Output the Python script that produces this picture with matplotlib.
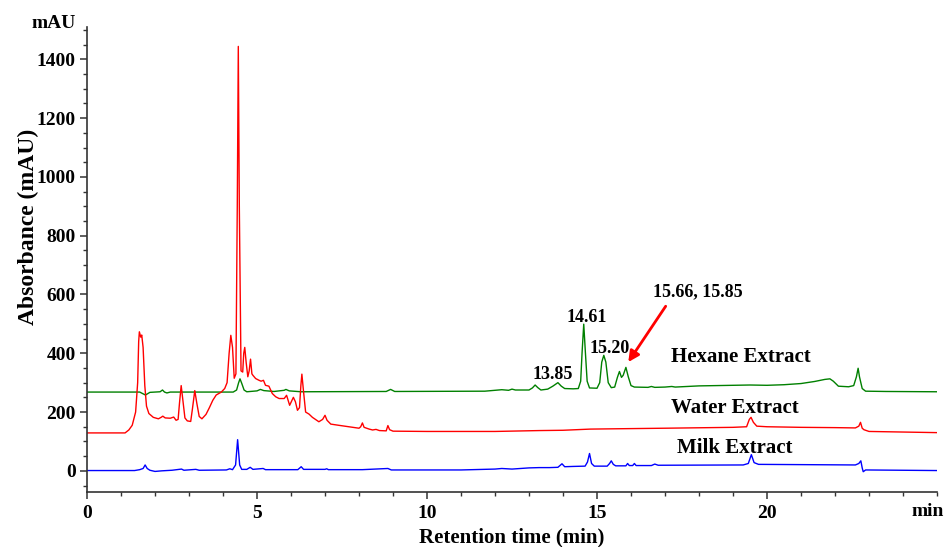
import matplotlib
matplotlib.use("Agg")
import matplotlib.pyplot as plt
from matplotlib.ticker import MultipleLocator

plt.rcParams['font.family'] = ['Liberation Serif', 'DejaVu Serif']
plt.rcParams['font.weight'] = 'bold'

# ---- data (time in min, absorbance in mAU) ----
hexane_t = [0, 1.55, 1.65, 1.72, 1.85, 2.15, 2.22, 2.28, 2.35, 2.45, 4.3, 4.4, 4.46, 4.5, 4.55,
            4.62, 4.7, 5.0, 5.1, 5.2, 5.5, 5.8, 5.85, 5.95, 6.3, 8.8, 8.93, 9.05, 11.7, 12.2,
            12.4, 12.5, 12.6, 13.0, 13.1, 13.18, 13.26, 13.35, 13.55, 13.7, 13.85, 13.95, 14.05,
            14.3, 14.45, 14.52, 14.56, 14.61, 14.66, 14.71, 14.78, 15.0, 15.08, 15.14, 15.20,
            15.26, 15.33, 15.42, 15.52, 15.60, 15.66, 15.72, 15.77, 15.85, 15.92, 16.0, 16.1,
            16.5, 16.6, 16.7, 17.0, 17.2, 17.3, 18.0, 19.0, 19.5, 20.0, 20.5, 21.0, 21.4, 21.7,
            21.85, 21.95, 22.1, 22.4, 22.55, 22.63, 22.68, 22.72, 22.8, 22.9, 23.5, 25]
hexane_v = [268, 268, 262, 258, 267, 269, 275, 268, 265, 268, 268, 275, 300, 313, 298,
            275, 269, 272, 277, 273, 270, 274, 277, 272, 269, 270, 277, 270, 271, 276,
            274, 278, 275, 275, 282, 292, 283, 275, 278, 288, 300, 288, 280,
            279, 280, 305, 400, 499, 400, 305, 282, 281, 300, 370, 393,
            370, 300, 283, 285, 318, 338, 318, 325, 352, 320, 290, 285,
            284, 287, 284, 285, 287, 285, 289, 291, 292, 291, 293, 297, 304, 311,
            313, 305, 288, 286, 290, 320, 349, 320, 280, 271, 270, 269]

water_t = [0, 1.12, 1.23, 1.33, 1.43, 1.49, 1.52, 1.54, 1.58, 1.61, 1.65, 1.7, 1.75, 1.82, 1.95,
           2.1, 2.18, 2.23, 2.3, 2.45, 2.55, 2.62, 2.68, 2.72, 2.77, 2.82, 2.88, 2.95, 3.05,
           3.1, 3.17, 3.23, 3.3, 3.38, 3.5, 3.6, 3.7, 3.8, 3.95, 4.05, 4.12, 4.18, 4.23, 4.28,
           4.33, 4.38, 4.42, 4.45, 4.48, 4.53, 4.58, 4.61, 4.64, 4.68, 4.73, 4.77, 4.81, 4.85,
           4.88, 4.96, 5.06, 5.12, 5.19, 5.25, 5.35, 5.45, 5.55, 5.65, 5.8, 5.87, 5.96, 6.07,
           6.13, 6.19, 6.25, 6.29, 6.32, 6.36, 6.43, 6.53, 6.63, 6.82, 6.93, 7.0, 7.06, 7.17,
           7.4, 7.7, 8.0, 8.05, 8.1, 8.15, 8.3, 8.4, 8.5, 8.6, 8.8, 8.85, 8.9, 9.0, 10, 12,
           13.3, 14.0, 14.8, 15.5, 17, 19.0, 19.4, 19.48, 19.53, 19.6, 19.7, 20, 21, 22, 22.6,
           22.7, 22.75, 22.8, 22.85, 23, 25]
water_v = [129, 129, 139, 155, 200, 300, 440, 473, 455, 462, 420, 290, 220, 195, 182,
           177, 182, 186, 180, 179, 183, 172, 175, 230, 290, 240, 180, 170, 168,
           210, 273, 230, 185, 177, 192, 215, 240, 258, 268, 280, 300, 400, 461, 420,
           315, 330, 900, 1444, 900, 340, 336, 400, 420, 370, 320, 340, 380, 330,
           325, 314, 308, 305, 308, 291, 288, 263, 252, 246, 246, 257, 223, 250,
           235, 206, 215, 290, 329, 280, 200, 193, 182, 167, 175, 189, 172, 159,
           155, 150, 145, 150, 163, 148, 142, 139, 141, 137, 136, 154, 140, 135, 134, 134,
           137, 138, 142, 143, 145, 148, 150, 175, 182, 165, 152, 150, 148, 147, 146,
           152, 165, 145, 140, 134, 130]

milk_t = [0, 1.4, 1.55, 1.65, 1.71, 1.77, 1.85, 2.0, 2.2, 2.5, 2.78, 2.85, 3.2, 3.3, 4.1, 4.2,
          4.28, 4.37, 4.43, 4.49, 4.55, 4.7, 4.8, 4.88, 5.18, 5.25, 6.2, 6.3, 6.37, 7.0, 7.05,
          7.1, 8.1, 8.85, 8.95, 11.0, 12.0, 12.2, 12.5, 13.0, 13.3, 13.6, 13.85, 13.97, 14.05,
          14.3, 14.65, 14.72, 14.78, 14.84, 14.92, 15.3, 15.37, 15.42, 15.48, 15.55, 15.85,
          15.9, 15.95, 16.05, 16.1, 16.15, 16.6, 16.7, 16.8, 19.3, 19.45, 19.54, 19.62, 19.75,
          22.6, 22.7, 22.76, 22.8, 22.83, 22.9, 25]
milk_v = [1, 1, 4, 8, 20, 8, 2, -2, 0, 2, 6, 2, 5, 2, 3, 7,
          4, 20, 106, 20, 5, 5, 12, 5, 8, 4, 4, 14, 5, 5, 7,
          4, 4, 8, 3, 3, 6, 8, 6, 10, 11, 11, 12, 24, 14,
          15, 16, 30, 59, 25, 16, 16, 25, 34, 22, 17, 17,
          25, 18, 18, 25, 18, 18, 23, 19, 20, 25, 55, 28, 22,
          20, 25, 34, 10, -3, 3, 1]

series_labels = ["Hexane Extract", "Water Extract", "Milk Extract"]
peak_labels = ["13.85", "14.61", "15.20", "15.66, 15.85"]

# ---- figure ----
fig = plt.figure(figsize=(9.45, 5.47), dpi=100)
ax = fig.add_axes([87/945, 1 - 492/547, (937 - 87)/945, (492 - 27)/547])

ax.plot(hexane_t, hexane_v, color='#008000', lw=1.0)
ax.plot(water_t, water_v, color='#ff0000', lw=1.0)
ax.plot(milk_t, milk_v, color='#0000ff', lw=1.0)

ax.set_xlim(0, 25)
ax.set_ylim(-72, 1510)
ax.spines['top'].set_visible(False)
ax.spines['right'].set_visible(False)
for s in ('left', 'bottom'):
    ax.spines[s].set_linewidth(1.2)
    ax.spines[s].set_color('#333333')

ax.xaxis.set_major_locator(MultipleLocator(5))
ax.xaxis.set_minor_locator(MultipleLocator(1))
ax.yaxis.set_major_locator(MultipleLocator(200))
ax.yaxis.set_minor_locator(MultipleLocator(50))
ax.set_xticks([0, 5, 10, 15, 20])
ax.set_yticks([0, 200, 400, 600, 800, 1000, 1200, 1400])
ax.tick_params(which='major', direction='out', length=5, width=1.1, color='#333333',
               labelsize=14)
ax.tick_params(axis='x', which='major', pad=4)
ax.tick_params(axis='y', which='major', pad=3)
ax.tick_params(which='minor', direction='out', length=3, width=1.0, color='#333333')
for lab in ax.get_xticklabels() + ax.get_yticklabels():
    lab.set_fontweight('bold')

ax.set_xlabel("Retention time (min)", fontsize=15, fontweight='bold', labelpad=4)
ax.set_ylabel("Absorbance (mAU)", fontsize=17, fontweight='bold')
ax.yaxis.set_label_coords(-0.057, 0.57)

ax.text(-0.013, 1.007, "mAU", transform=ax.transAxes, ha='right', va='center',
        fontsize=14, fontweight='bold')
fig.text(944/945, 1 - 511/547, "min", ha='right', va='center', fontsize=14, fontweight='bold')

# series labels
ax.text(19.24, 386, series_labels[0], ha='center', va='center', fontsize=15, fontweight='bold')
ax.text(19.06, 215, series_labels[1], ha='center', va='center', fontsize=15, fontweight='bold')
ax.text(19.06, 79, series_labels[2], ha='center', va='center', fontsize=15, fontweight='bold')

# peak annotations
ax.text(13.71, 328, peak_labels[0], ha='center', va='center', fontsize=13, fontweight='bold')
ax.text(14.69, 522, peak_labels[1], ha='center', va='center', fontsize=13, fontweight='bold')
ax.text(15.37, 417, peak_labels[2], ha='center', va='center', fontsize=13, fontweight='bold')
ax.text(17.97, 611, peak_labels[3], ha='center', va='center', fontsize=13, fontweight='bold')
ax.annotate("", xy=(15.92, 370), xytext=(17.02, 560),
            arrowprops=dict(arrowstyle='-|>', color='#ff0000', lw=2.0,
                            mutation_scale=16, shrinkA=0, shrinkB=0))

fig.savefig("out.png", dpi=100)
